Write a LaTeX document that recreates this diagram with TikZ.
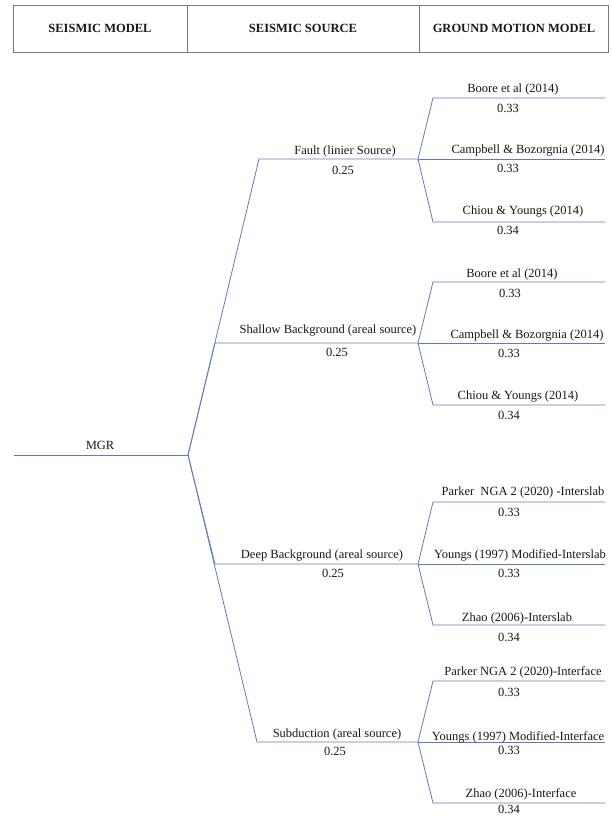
\documentclass[tikz,border=0pt]{standalone}
\usepackage{fontspec}
\setmainfont{Liberation Serif}
\begin{document}
\begin{tikzpicture}[x=1pt,y=-1pt,
  tree/.style={draw={rgb,255:red,95;green,125;blue,180},line width=0.8pt},
  hdr/.style={draw={rgb,255:red,120;green,120;blue,120},line width=0.8pt},
  lbl/.style={inner sep=0pt,font=\fontsize{12.5}{14}\selectfont,text={rgb,255:red,25;green,25;blue,25}},
  htxt/.style={inner sep=0pt,font=\fontsize{12.5}{14}\selectfont\bfseries,text={rgb,255:red,25;green,25;blue,25}}]
\useasboundingbox[fill=white] (0,0) rectangle (611,817);
% header
\draw[hdr] (13,5) rectangle (608,52);
\draw[hdr] (187,5) -- (187,52);
\draw[hdr] (419,5) -- (419,52);
\node[htxt] (h1) at (100,28) {SEISMIC MODEL};
\node[htxt] (h2) at (303,28) {SEISMIC SOURCE};
\node[htxt] (h3) at (514,28) {GROUND MOTION MODEL};
% root
\coordinate (r0) at (14,455);
\coordinate (r) at (188,455);
\node[lbl] (mgr) at (100,445) {MGR};
\draw[tree] (r0) -- (r);
% sources
\coordinate (s1a) at (259,159); \coordinate (s1) at (418,159);
\coordinate (s2a) at (215,343); \coordinate (s2) at (418,343);
\coordinate (s3a) at (215,564); \coordinate (s3) at (418,564);
\coordinate (s4a) at (257,742); \coordinate (s4) at (418,742);
\draw[tree] (r) -- (s1a) -- (s1);
\draw[tree] (r) -- (s2a) -- (s2);
\draw[tree] (r) -- (s3a) -- (s3);
\draw[tree] (r) -- (s4a) -- (s4);
\node[lbl] (n1) at (345,151) {Fault (linier Source)};
\node[lbl] (w1) at (343,170) {0.25};
\node[lbl] (n2) at (328,331) {Shallow Background (areal source)};
\node[lbl] (w2) at (337,352) {0.25};
\node[lbl] (n3) at (322,556) {Deep Background (areal source)};
\node[lbl] (w3) at (333,573) {0.25};
\node[lbl] (n4) at (337,734) {Subduction (areal source)};
\node[lbl] (w4) at (335,751) {0.25};
% leaves of fault
\coordinate (a1) at (433,98); \coordinate (a1e) at (605,98);
\coordinate (a2e) at (605,159);
\coordinate (a3) at (433,222); \coordinate (a3e) at (605,222);
\draw[tree] (s1) -- (a1) -- (a1e);
\draw[tree] (s1) -- (a2e);
\draw[tree] (s1) -- (a3) -- (a3e);
\node[lbl] (ta1) at (513,89) {Boore et al (2014)};
\node[lbl] (pa1) at (508,108) {0.33};
\node[lbl] (ta2) at (528,151) {Campbell \& Bozorgnia (2014)};
\node[lbl] (pa2) at (508,168) {0.33};
\node[lbl] (ta3) at (523,212) {Chiou \& Youngs (2014)};
\node[lbl] (pa3) at (508,230) {0.34};
% leaves of shallow
\coordinate (b1) at (433,282); \coordinate (b1e) at (605,282);
\coordinate (b2e) at (605,343);
\coordinate (b3) at (433,405); \coordinate (b3e) at (605,405);
\draw[tree] (s2) -- (b1) -- (b1e);
\draw[tree] (s2) -- (b2e);
\draw[tree] (s2) -- (b3) -- (b3e);
\node[lbl] (tb1) at (512,274) {Boore et al (2014)};
\node[lbl] (pb1) at (510,293) {0.33};
\node[lbl] (tb2) at (527,336) {Campbell \& Bozorgnia (2014)};
\node[lbl] (pb2) at (509,353) {0.33};
\node[lbl] (tb3) at (518,397) {Chiou \& Youngs (2014)};
\node[lbl] (pb3) at (509,415) {0.34};
% leaves of deep
\coordinate (c1) at (433,502); \coordinate (c1e) at (605,502);
\coordinate (c2e) at (605,564);
\coordinate (c3) at (433,625); \coordinate (c3e) at (605,625);
\draw[tree] (s3) -- (c1) -- (c1e);
\draw[tree] (s3) -- (c2e);
\draw[tree] (s3) -- (c3) -- (c3e);
\node[lbl] (tc1) at (523,492) {Parker\ \ NGA 2 (2020) -Interslab};
\node[lbl] (pc1) at (509,512) {0.33};
\node[lbl] (tc2) at (520,555) {Youngs (1997) Modified-Interslab};
\node[lbl] (pc2) at (509,573) {0.33};
\node[lbl] (tc3) at (517,618) {Zhao (2006)-Interslab};
\node[lbl] (pc3) at (509,637) {0.34};
% leaves of subduction
\coordinate (d1) at (433,681); \coordinate (d1e) at (605,681);
\coordinate (d2e) at (605,742);
\coordinate (d3) at (433,803); \coordinate (d3e) at (605,803);
\draw[tree] (s4) -- (d1) -- (d1e);
\draw[tree] (s4) -- (d2e);
\draw[tree] (s4) -- (d3) -- (d3e);
\node[lbl] (td1) at (523,672) {Parker NGA 2 (2020)-Interface};
\node[lbl] (pd1) at (509,692) {0.33};
\node[lbl] (td2) at (518,737) {Youngs (1997) Modified-Interface};
\node[lbl] (pd2) at (509,750) {0.33};
\node[lbl] (td3) at (521,794) {Zhao (2006)-Interface};
\node[lbl] (pd3) at (509,809) {0.34};
\end{tikzpicture}
\end{document}
